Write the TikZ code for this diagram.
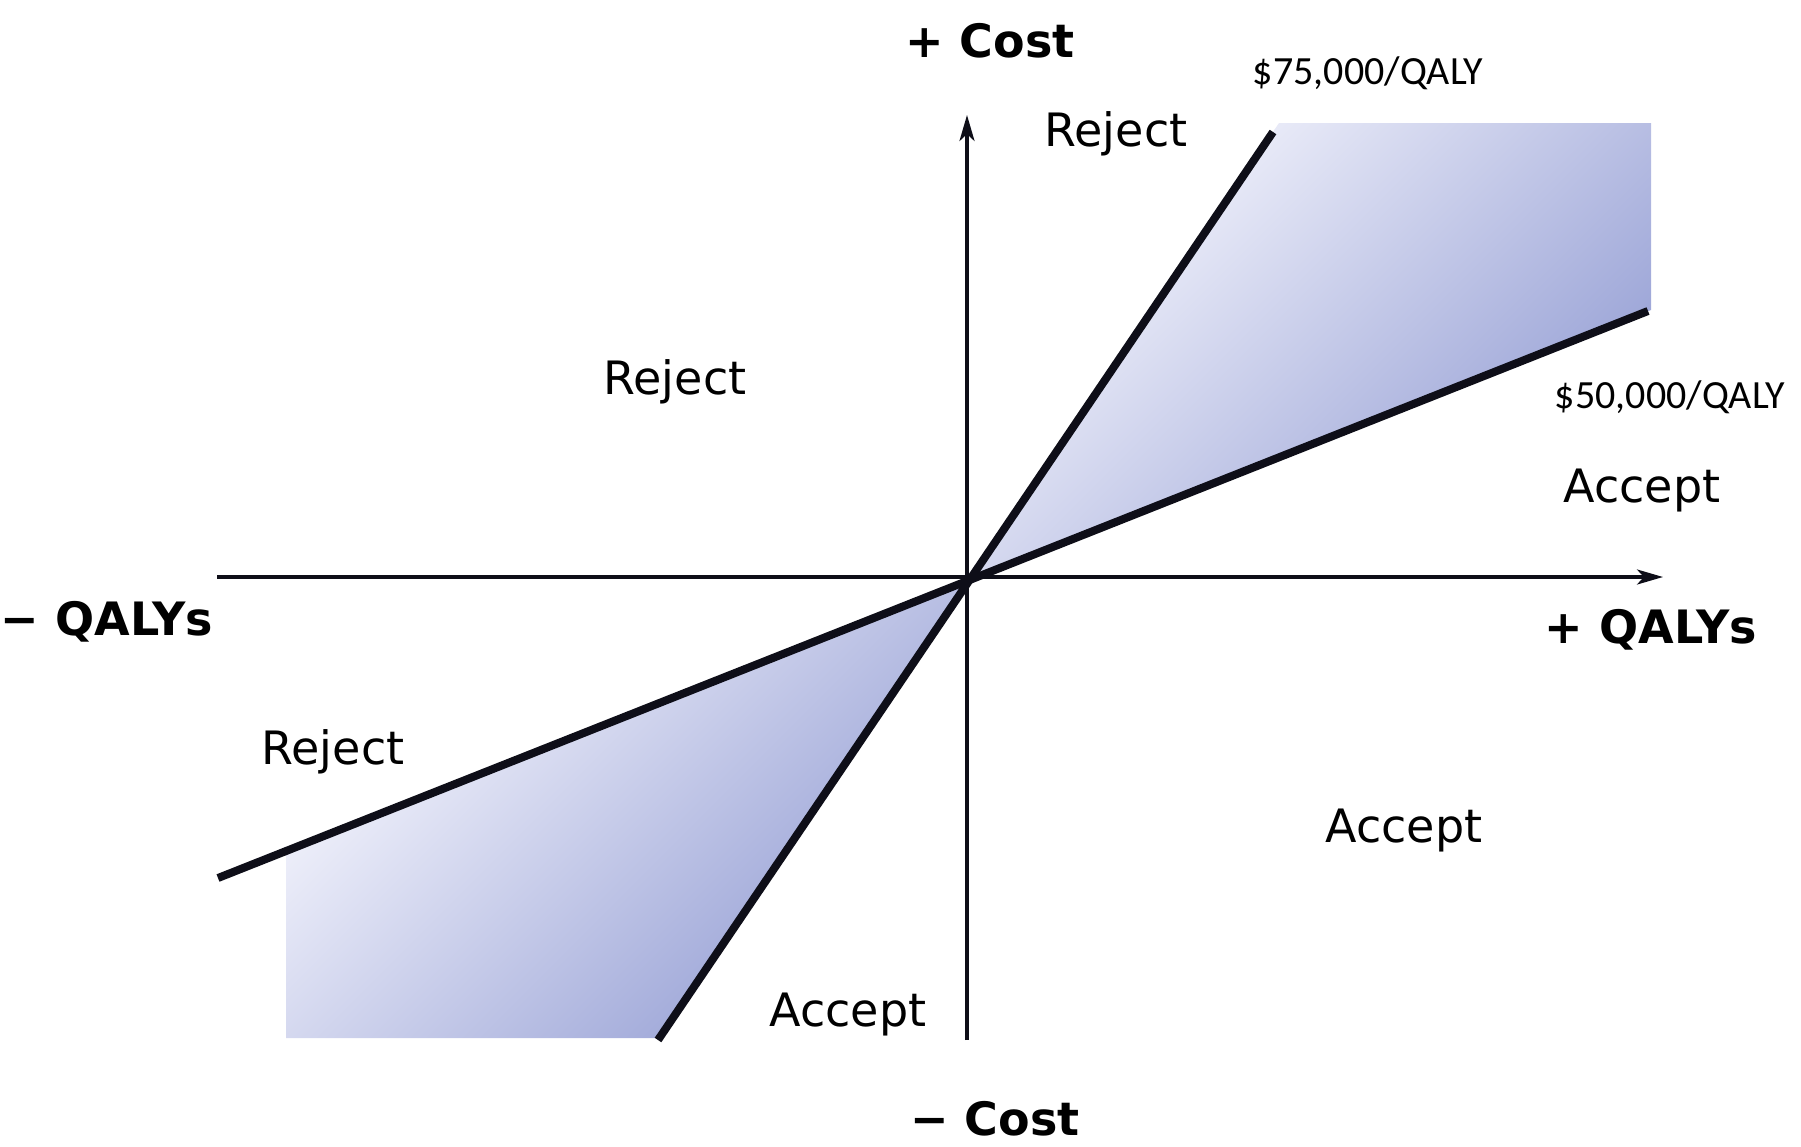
\documentclass[tikz,border=0pt]{standalone}
\usepackage{fontspec}
\setmainfont{DejaVu Sans}
\newfontfamily\ratefont{Carlito}
\usetikzlibrary{arrows.meta, positioning, calc}
\definecolor{planelight}{RGB}{250,250,255}
\definecolor{planemid}{RGB}{214,218,240}
\definecolor{planedark}{RGB}{146,156,211}
\definecolor{lineink}{RGB}{14,14,24}

\begin{document}
\begin{tikzpicture}[x=1pt, y=-1pt,
    axis/.style={line width=3.5pt, lineink, -{Stealth[length=26pt, width=15pt, inset=7pt]}},
    wtp/.style={line width=8pt, lineink},
    band/.style={top color=planelight, middle color=planemid, bottom color=planedark, shading angle=45},
    region/.style={font=\fontsize{46}{50}\selectfont, anchor=base},
    axlbl/.style={font=\fontsize{46}{50}\selectfont\bfseries, anchor=base},
    rate/.style={font=\ratefont\fontsize{40}{44}\selectfont, anchor=base}
  ]
    \useasboundingbox (0,0) rectangle (1801,1146);
    \coordinate (o) at (968,578);
    % axis ends
    \coordinate (xl) at (217,577);
    \coordinate (xr) at (1663,577);
    \coordinate (yb) at (967,1040);
    \coordinate (yt) at (967,115);
    % threshold line ends
    \coordinate (s1) at (1273,132);
    \coordinate (s2) at (658,1040);
    \coordinate (f1) at (1648,311);
    \coordinate (f2) at (218,878);
    % shaded bands
    \shade[band] (o) -- (1279,123) -- (1651,123) -- (1651,310) -- cycle;
    \shade[band] (o) -- (286,851) -- (286,1038) -- (660,1038) -- cycle;
    % axes
    \draw[axis] (xl) -- (xr);
    \draw[axis] (yb) -- (yt);
    % thresholds
    \draw[wtp] (s1) -- (s2);
    \draw[wtp] (f1) -- (f2);
    % axis labels
    \node[axlbl] (cp) at (990,57) {+ Cost};
    \node[axlbl] (cm) at (995,1135) {\char"2212\ Cost};
    \node[axlbl] (qm) at (107,635) {\char"2212\ QALYs};
    \node[axlbl] (qp) at (1651,643) {+ QALYs};
    % rates
    \node[rate] (r75) at (1368,84) {\$75,000/QALY};
    \node[rate] (r50) at (1670,408) {\$50,000/QALY};
    % regions
    \node[region] (rj1) at (1116,146) {Reject};
    \node[region] (rj2) at (675,394) {Reject};
    \node[region] (rj3) at (333,764) {Reject};
    \node[region] (ac1) at (1642,502) {Accept};
    \node[region] (ac2) at (1404,842) {Accept};
    \node[region] (ac3) at (848,1026) {Accept};
\end{tikzpicture}
\end{document}
